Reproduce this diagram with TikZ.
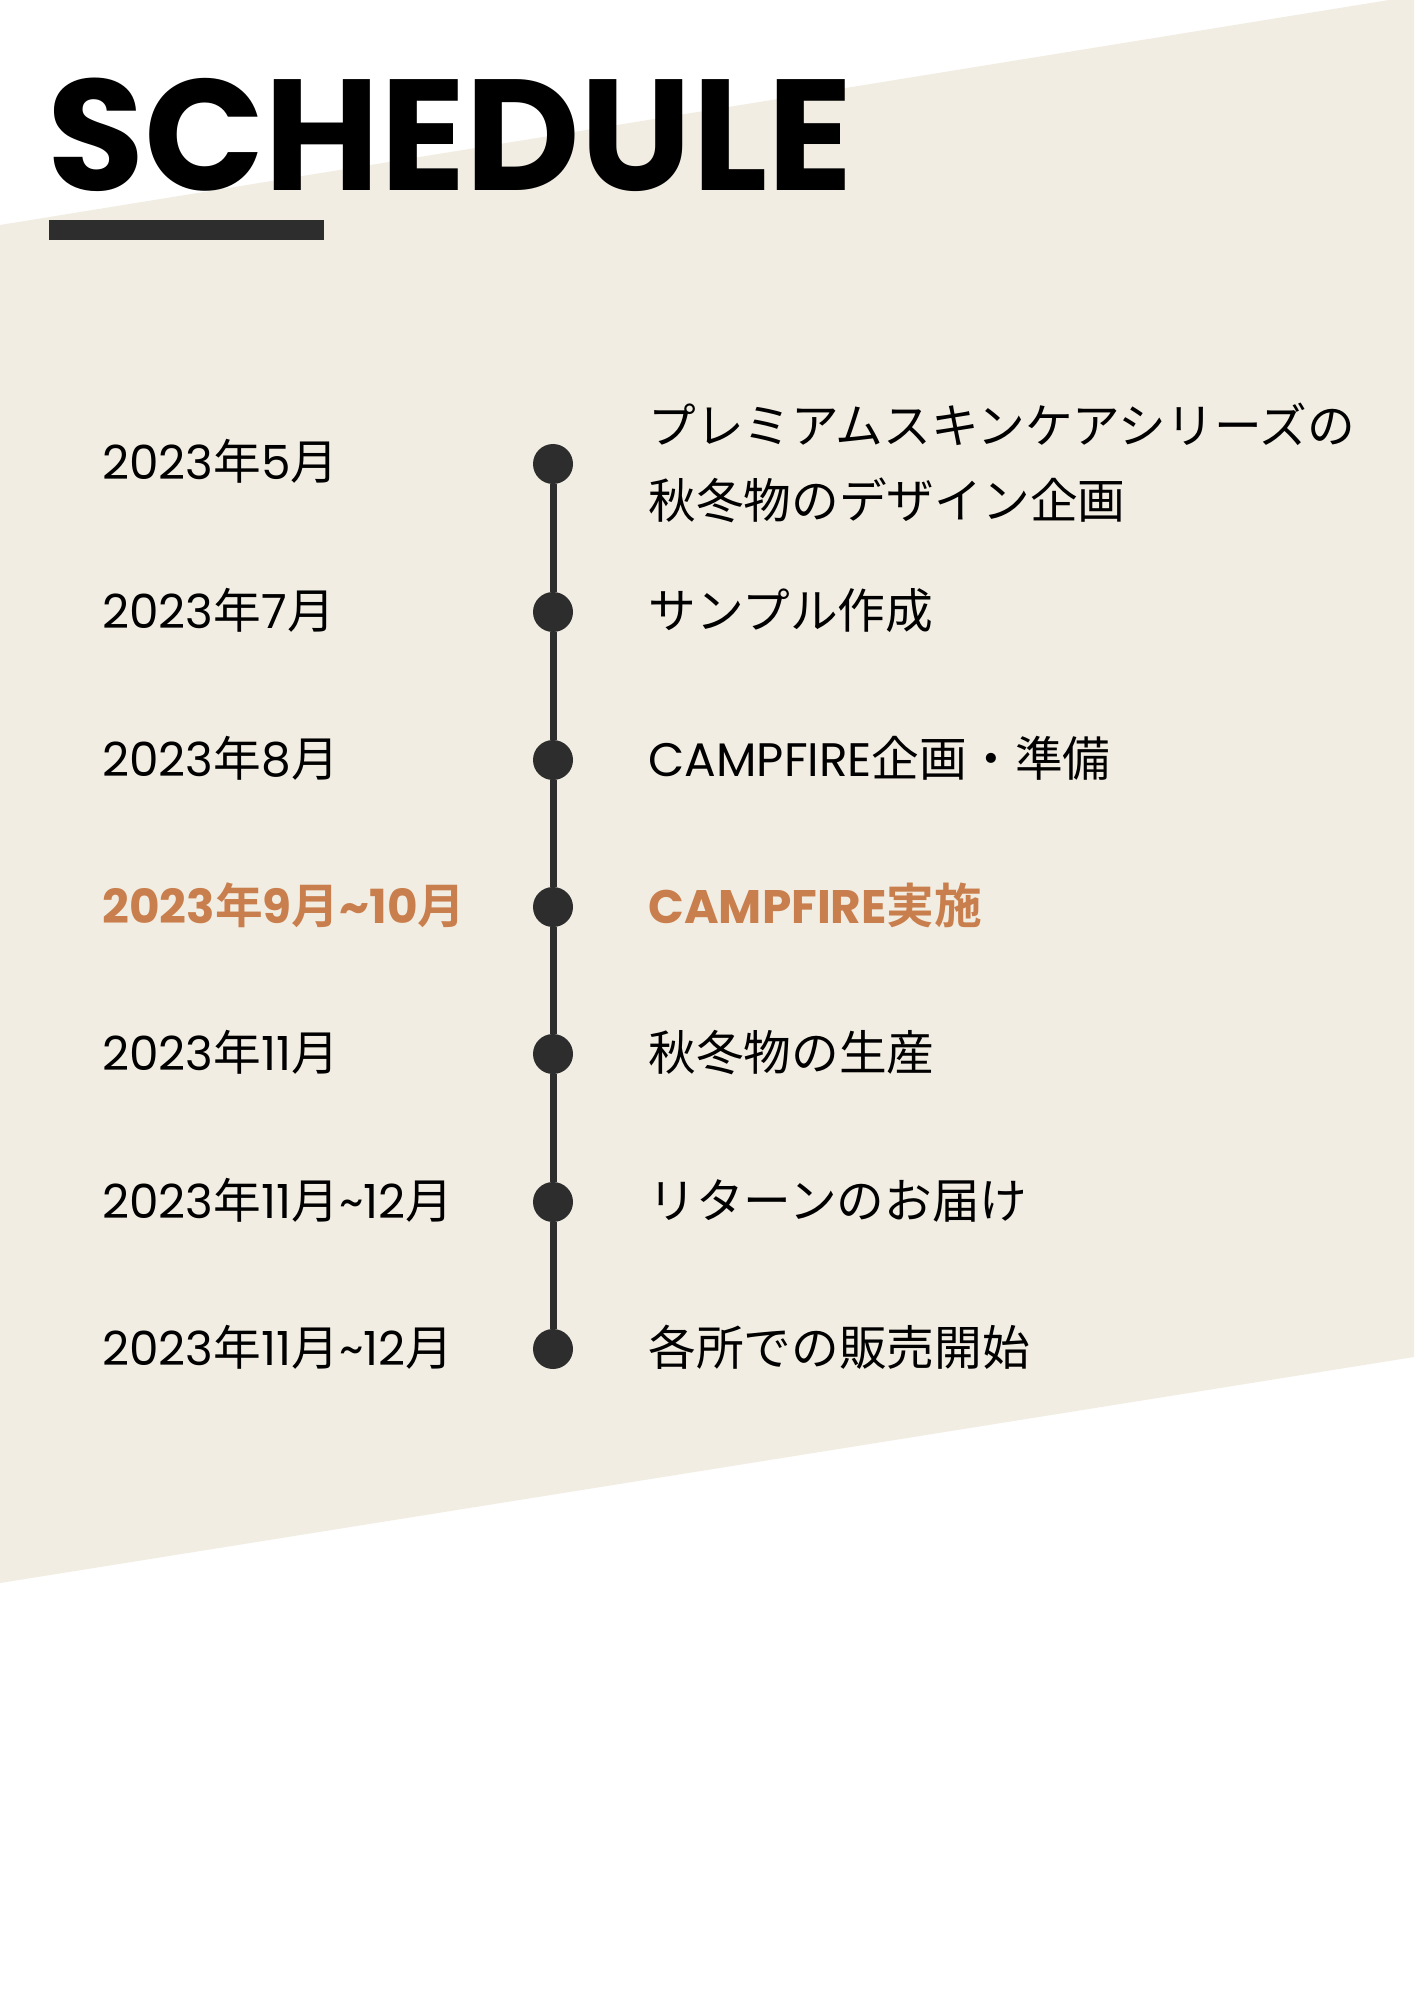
\documentclass[tikz,border=0pt]{standalone}
\usepackage{fontspec}
\setmainfont{Poppins}
\newfontfamily\cjk{Noto Sans CJK JP}[Scale=1.015, BoldFont={Noto Sans CJK JP Bold}]
\definecolor{beige}{HTML}{F2EDE2}
\definecolor{dark}{HTML}{2D2D2D}
\definecolor{accent}{HTML}{C97F4D}
\tikzset{
  datetxt/.style={anchor=base west, inner sep=0pt, font=\fontsize{23.5}{28}\selectfont, text=black},
  itemtxt/.style={anchor=base west, inner sep=0pt, font=\fontsize{23.5}{28}\selectfont, text=black},
  hilite/.style={font=\fontsize{23.5}{28}\selectfont\bfseries, text=accent},
  dot/.style={circle, fill=dark, minimum size=20pt, inner sep=0pt},
  tline/.style={draw=dark, line width=3.5pt}
}
\begin{document}
\begin{tikzpicture}[x=0.5pt,y=-0.5pt]
\fill[white] (0,0) rectangle (1414,2000);
\useasboundingbox (0,0) rectangle (1414,2000);
\fill[beige] (0,225) -- (1389,0) -- (1414,0) -- (1414,1357) -- (0,1583) -- cycle;
% title
\node[anchor=base west, inner sep=0pt, font=\fontsize{79}{88}\selectfont\bfseries] (title) at (47,191) {SCHEDULE};
\fill[dark] (49,220) rectangle (324,240);
% dots
\foreach \i/\y in {1/464,2/612,3/760,4/907,5/1054,6/1202,7/1349}{
  \node[dot] (d\i) at (553,\y) {};
}
\foreach \a/\b in {1/2,2/3,3/4,4/5,5/6,6/7}{
  \draw[tline] (d\a) -- (d\b);
}
% dates
\node[datetxt] (t1) at (102,480) {2023{\cjk 年}5{\cjk 月}};
\node[datetxt] (t2) at (102,628) {2023{\cjk 年}7{\cjk 月}};
\node[datetxt] (t3) at (102,776) {2023{\cjk 年}8{\cjk 月}};
\node[datetxt, hilite] (t4) at (102,923) {2023{\cjk\bfseries 年}9{\cjk\bfseries 月}\textasciitilde10{\cjk\bfseries 月}};
\node[datetxt] (t5) at (102,1070) {2023{\cjk 年}11{\cjk 月}};
\node[datetxt] (t6) at (102,1218) {2023{\cjk 年}11{\cjk 月}\textasciitilde12{\cjk 月}};
\node[datetxt] (t7) at (102,1365) {2023{\cjk 年}11{\cjk 月}\textasciitilde12{\cjk 月}};
% items
\node[itemtxt] (i1a) at (648,444) {\cjk プレミアムスキンケアシリーズの};
\node[itemtxt] (i1b) at (648,518) {\cjk 秋冬物のデザイン企画};
\node[itemtxt] (i2) at (648,628) {\cjk サンプル作成};
\node[itemtxt] (i3) at (648,776) {CAMPFIRE{\cjk 企画・準備}};
\node[itemtxt, hilite] (i4) at (648,923) {CAMPFIRE{\cjk\bfseries 実施}};
\node[itemtxt] (i5) at (648,1070) {\cjk 秋冬物の生産};
\node[itemtxt] (i6) at (648,1218) {\cjk リターンのお届け};
\node[itemtxt] (i7) at (648,1365) {\cjk 各所での販売開始};
\end{tikzpicture}
\end{document}
